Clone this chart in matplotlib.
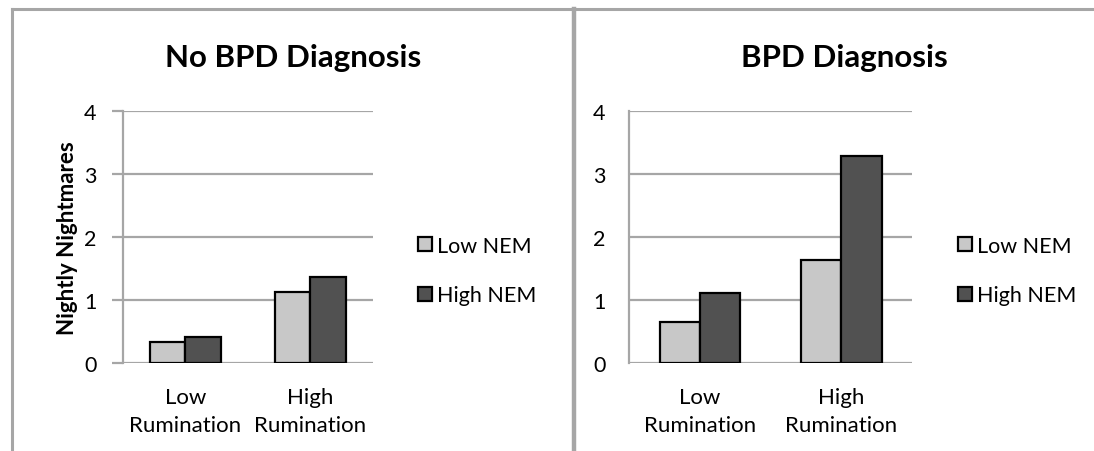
import matplotlib
matplotlib.use("Agg")
import matplotlib.pyplot as plt
from matplotlib.lines import Line2D
from matplotlib.patches import Patch
import numpy as np

plt.rcParams['font.family'] = ['Lato', 'DejaVu Sans']

categories = ["Low\nRumination", "High\nRumination"]
series_names = ["Low NEM", "High NEM"]
no_bpd_low_nem = [0.34, 1.13]
no_bpd_high_nem = [0.42, 1.36]
bpd_low_nem = [0.65, 1.64]
bpd_high_nem = [1.12, 3.29]
titles = ["No BPD Diagnosis", "BPD Diagnosis"]
y_ticks = [0, 1, 2, 3, 4]
y_label = "Nightly Nightmares"

W, H = 1094, 452
fig = plt.figure(figsize=(W / 100, H / 100), dpi=100)

GRID = "#A6A6A6"
LIGHT = "#C8C8C8"
DARK = "#515151"

def fx(px):
    return px / W

def fy(py):
    return 1 - py / H

# frame lines
fig.add_artist(Line2D([fx(12), fx(12)], [0, fy(10)], color=GRID, lw=2.2))
fig.add_artist(Line2D([fx(12), 1], [fy(10), fy(10)], color=GRID, lw=2.2))
fig.add_artist(Line2D([fx(574), fx(574)], [0, fy(10)], color=GRID, lw=3.2))

panels = [
    dict(left=122.7, right=372.7, low=no_bpd_low_nem, high=no_bpd_high_nem,
         title_x=293, legend_x=418, ticks_out=True),
    dict(left=629.3, right=912.0, low=bpd_low_nem, high=bpd_high_nem,
         title_x=844, legend_x=958, ticks_out=False),
]

top, bottom = 112.3, 364.0
bw = 0.285
x = np.arange(len(categories))

for i, p in enumerate(panels):
    ax = fig.add_axes([fx(p['left']), fy(bottom), fx(p['right'] - p['left']),
                       (bottom - top) / H])
    ax.set_xlim(-0.5, 1.5)
    ax.set_ylim(0, 4)
    ax.bar(x - bw / 2, p['low'], bw, color=LIGHT, edgecolor="black",
           linewidth=1.6, zorder=3, label=series_names[0])
    ax.bar(x + bw / 2, p['high'], bw, color=DARK, edgecolor="black",
           linewidth=1.6, zorder=3, label=series_names[1])
    for v in y_ticks:
        ax.axhline(v, color=GRID, lw=1.6, zorder=1)
    for s in ['top', 'right', 'bottom']:
        ax.spines[s].set_visible(False)
    ax.spines['left'].set_color(GRID)
    ax.spines['left'].set_linewidth(1.6)
    ax.set_yticks(y_ticks)
    ax.set_xticks(x)
    ax.set_xticklabels(categories, fontsize=16, linespacing=1.5)
    if p['ticks_out']:
        ax.tick_params(axis='y', length=8, width=1.6, color=GRID, pad=11,
                       labelsize=15.5)
    else:
        ax.tick_params(axis='y', length=0, pad=17, labelsize=15.5)
    ax.tick_params(axis='x', length=0, pad=17)
    ax.set_facecolor('none')
    fig.text(fx(p['title_x']), fy(58.5), titles[i], ha='center', va='center',
             fontsize=22.5, fontweight='bold')
    handles = [Patch(facecolor=LIGHT, edgecolor='black', linewidth=1.6),
               Patch(facecolor=DARK, edgecolor='black', linewidth=1.6)]
    fig.legend(handles, series_names, loc='center left',
               bbox_to_anchor=(fx(p['legend_x']), fy(271.5)), frameon=False,
               borderpad=0, borderaxespad=0, fontsize=15.5, handlelength=0.65,
               handleheight=0.65, handletextpad=0.25, labelspacing=1.38)

fig.text(fx(68), fy(238), y_label, rotation=90, ha='center', va='center',
         fontsize=16, fontweight='bold')

fig.savefig("out.png", dpi=100)
